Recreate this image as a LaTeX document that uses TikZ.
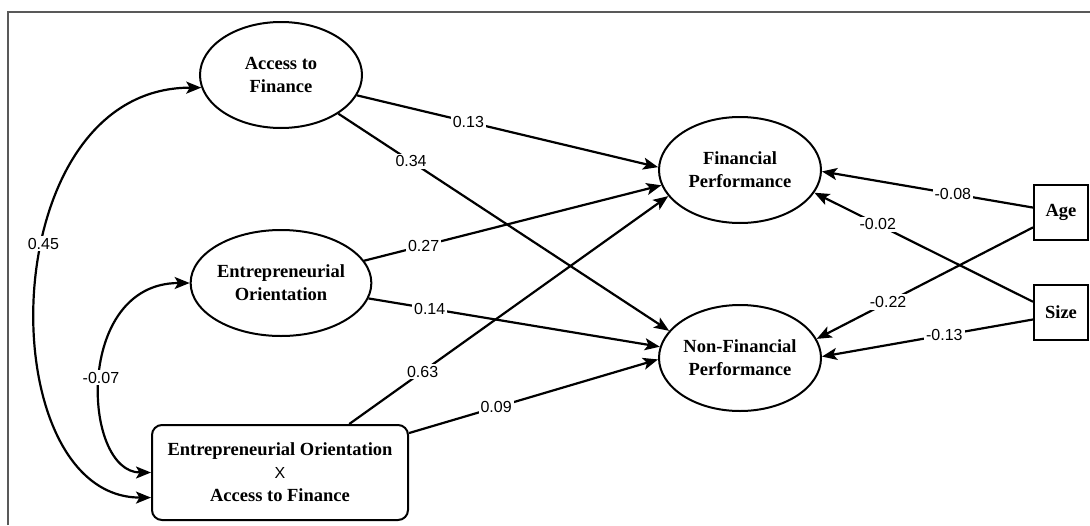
\documentclass[tikz,border=0pt]{standalone}
\usepackage{fontspec}
\setmainfont{Liberation Serif}
\setsansfont{Liberation Sans}
\usetikzlibrary{arrows.meta,shapes.geometric}
\tikzset{
  latent/.style={draw,ellipse,line width=2pt,minimum width=162pt,minimum height=106pt,inner sep=0pt,align=center,font=\bfseries\fontsize{18.5}{23}\selectfont},
  observed/.style={draw,rectangle,line width=2pt,minimum width=54pt,minimum height=55pt,inner sep=0pt,font=\bfseries\fontsize{18.5}{23}\selectfont},
  effect/.style={line width=2.2pt,-{Stealth[length=15pt,width=12pt,inset=3.5pt]}},
  covar/.style={line width=2.2pt,{Stealth[length=15pt,width=12pt,inset=3.5pt]}-{Stealth[length=15pt,width=12pt,inset=3.5pt]}},
  coef/.style={fill=white,inner sep=2pt,font=\sffamily\fontsize{16}{18}\selectfont}
}
\begin{document}
\begin{tikzpicture}[x=1pt,y=-1pt]
\useasboundingbox (0,0) rectangle (1090,525);
\draw [line width=2pt,black!65] (8,525) -- (8,12) -- (1090,12);
\node [latent] (af) at (281,75) {Access to\\Finance};
\node [latent] (eo) at (281,283) {Entrepreneurial\\Orientation};
\node [draw,rounded corners=10pt,line width=2pt,minimum width=256pt,minimum height=95pt,align=center,font=\bfseries\fontsize{18.5}{23}\selectfont] (eoaf) at (280,472.5) {Entrepreneurial Orientation\\{\normalfont\sffamily\fontsize{16}{23}\selectfont X}\\Access to Finance};
\node [latent] (fp) at (740,170) {Financial\\Performance};
\node [latent] (nfp) at (740,358) {Non-Financial\\Performance};
\node [observed] (age) at (1061,212.5) {Age};
\node [observed] (size) at (1061,312.5) {Size};
\draw [effect] (af.-15) -- node [coef,pos=.37] {0.13} (fp.178);
\draw [effect] (af.-34) -- node [coef,pos=.22] {0.34} (nfp.159);
\draw [effect] (eo.15) -- node [coef,pos=.2] {0.27} (fp.-169);
\draw [effect] (eo.-10) -- node [coef,pos=.21] {0.14} (nfp.172);
\draw [effect] (eoaf.35) -- node [coef,pos=.23] {0.63} (fp.-160);
\draw [effect] (eoaf.17) -- node [coef,pos=.35] {0.09} (nfp.-179);
\draw [effect] (age.170) -- node [coef,pos=.38] {-0.08} (fp.-1);
\draw [effect] (size.159) -- node [coef,pos=.71] {-0.02} (fp.-17);
\draw [effect] (age.-152) -- node [coef,pos=.67] {-0.22} (nfp.14);
\draw [effect] (size.-166) -- node [coef,pos=.42] {-0.13} (nfp.1);
\draw [covar] (af.-171) .. controls +(-210,0) and +(-162,0) .. node [coef,pos=.42] {0.45} (eoaf.191);
\draw [covar] (eo.west) .. controls +(-116,0) and +(-69,0) .. node [coef,pos=.5] {-0.07} (eoaf.west);
\end{tikzpicture}
\end{document}
